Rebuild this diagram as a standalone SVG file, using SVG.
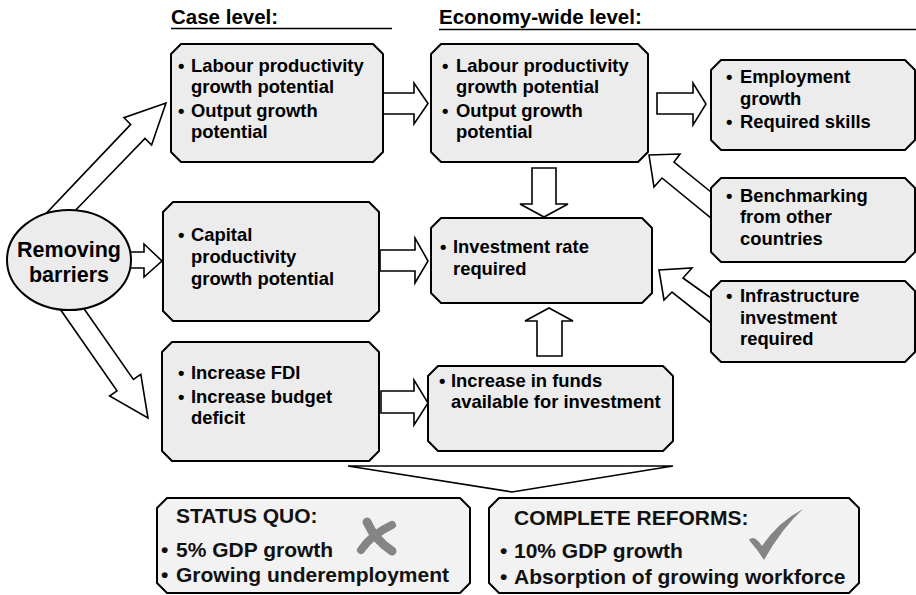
<svg xmlns="http://www.w3.org/2000/svg" width="916" height="595" viewBox="0 0 916 595">
<style>
text{font-family:"Liberation Sans",Arial,sans-serif;font-weight:bold;fill:#000}
.t{font-size:18.4px}
.h{font-size:20.5px}
.s{font-size:21px;fill:#111}
.box{fill:#ececec;stroke:#000;stroke-width:2;stroke-linejoin:round}
.sbox{fill:#f2f2f2;stroke:#000;stroke-width:2;stroke-linejoin:round}
.arr{fill:#fff;stroke:#000;stroke-width:1.6;stroke-linejoin:miter}
.ul{stroke:#000;stroke-width:1.6}
.mk{fill:none;stroke:#858585;stroke-linecap:round}
</style>
<rect width="916" height="595" fill="#fff"/>
<g id="headers">
<text class="h" x="171" y="24">Case level:</text>
<line class="ul" x1="171" y1="28.5" x2="392" y2="28.5"/>
<text class="h" x="439" y="24">Economy-wide level:</text>
<line class="ul" x1="439" y1="29.5" x2="916" y2="29.5"/>
</g>
<g id="connectors">
<polygon class="arr" points="383,93 414,93 414,83 428,103.5 414,124 414,114 383,114"/>
<polygon class="arr" points="657,93 693,93 693,83 706,104 693,125 693,114 657,114"/>
<polygon class="arr" points="380,250 415,250 415,238 428,261 415,283 415,271 380,271"/>
<polygon class="arr" points="381,391 414,391 414,380 428,403 414,425 414,413 381,413"/>
<polygon class="arr" points="125,252 144,252 144,244 162,261 144,277 144,268 125,268"/>
<polygon class="arr" points="532,168 556,168 556,204 568,204 544,217 520,204 532,204"/>
<polygon class="arr" points="537,356 562,356 562,321 573,321 549,308 525,321 537,321"/>
<polygon class="arr" points="70,216 145,138.4 151.6,145 166,103 124,117.7 130.7,124.4 40,220"/>
<polygon class="arr" points="80,303 133.4,379.5 140.8,374.4 148,418 109.6,396 117,390.9 58,306"/>
<polygon class="arr" points="711,192 674,162 680,154 649,155 654,187 662,178 711,218"/>
<polygon class="arr" points="711,298 683,278 692,268 659,270 664,300 672,292 711,323"/>
<polygon class="arr" points="348,466 673,466 512,492"/>
</g>
<g id="removing">
<ellipse cx="69" cy="260" rx="62" ry="50" fill="#ececec" stroke="#000" stroke-width="2"/>
<text class="h" style="font-size:21.5px" x="69" y="257" text-anchor="middle">Removing</text>
<text class="h" style="font-size:21.5px" x="69" y="282" text-anchor="middle">barriers</text>
</g>
<g id="case-labour">
<path class="box" d="M181,44 H373 L383,54 V152 L373,162 H181 L171,152 V54 Z"/>
<text class="t" x="178" y="72">•</text><text class="t" x="191" y="72">Labour productivity</text>
<text class="t" x="191" y="93">growth potential</text>
<text class="t" x="178" y="117">•</text><text class="t" x="191" y="117">Output growth</text>
<text class="t" x="191" y="138">potential</text>
</g>
<g id="econ-labour">
<path class="box" d="M441,44 H638 L648,54 V152 L638,162 H441 L431,152 V54 Z"/>
<text class="t" x="442" y="72">•</text><text class="t" x="456" y="72">Labour productivity</text>
<text class="t" x="456" y="93">growth potential</text>
<text class="t" x="442" y="117">•</text><text class="t" x="456" y="117">Output growth</text>
<text class="t" x="456" y="138">potential</text>
</g>
<g id="employment">
<path class="box" d="M721,60 H905 L915,70 V140 L905,150 H721 L711,140 V70 Z"/>
<text class="t" x="726" y="83">•</text><text class="t" x="740" y="83">Employment</text>
<text class="t" x="740" y="105">growth</text>
<text class="t" x="726" y="128">•</text><text class="t" x="740" y="128">Required skills</text>
</g>
<g id="benchmarking">
<path class="box" d="M721,178 H905 L915,188 V252 L905,262 H721 L711,252 V188 Z"/>
<text class="t" x="726" y="202">•</text><text class="t" x="740" y="202">Benchmarking</text>
<text class="t" x="740" y="223">from other</text>
<text class="t" x="740" y="245">countries</text>
</g>
<g id="infrastructure">
<path class="box" d="M721,281 H905 L915,291 V352 L905,362 H721 L711,352 V291 Z"/>
<text class="t" x="726" y="302">•</text><text class="t" x="740" y="302">Infrastructure</text>
<text class="t" x="740" y="324">investment</text>
<text class="t" x="740" y="345">required</text>
</g>
<g id="capital">
<path class="box" d="M173,202 H369 L379,212 V311 L369,321 H173 L163,311 V212 Z"/>
<text class="t" x="178" y="241">•</text><text class="t" x="191" y="241">Capital</text>
<text class="t" x="191" y="263">productivity</text>
<text class="t" x="191" y="285">growth potential</text>
</g>
<g id="investment">
<path class="box" d="M441,218 H642 L652,228 V293 L642,303 H441 L431,293 V228 Z"/>
<text class="t" x="440" y="253">•</text><text class="t" x="453" y="253">Investment rate</text>
<text class="t" x="453" y="275">required</text>
</g>
<g id="fdi">
<path class="box" d="M172,342 H369 L379,352 V451 L369,461 H172 L162,451 V352 Z"/>
<text class="t" x="178" y="379">•</text><text class="t" x="191" y="379">Increase FDI</text>
<text class="t" x="178" y="403">•</text><text class="t" x="191" y="403">Increase budget</text>
<text class="t" x="191" y="424">deficit</text>
</g>
<g id="funds">
<path class="box" d="M438,366 H663 L673,376 V441 L663,451 H438 L428,441 V376 Z"/>
<text class="t" x="439" y="387">•</text><text class="t" x="451" y="387">Increase in funds</text>
<text class="t" x="451" y="408">available for investment</text>
</g>
<g id="status-quo">
<path class="sbox" d="M167,498 H460 L470,508 V583 L460,593 H167 L157,583 V508 Z"/>
<text class="s" x="176" y="523">STATUS QUO:</text>
<text class="s" x="161" y="557">•</text><text class="s" x="176" y="557">5% GDP growth</text>
<text class="s" x="161" y="582">•</text><text class="s" x="176" y="582">Growing underemployment</text>
<path class="mk" stroke-width="9" d="M367,522 Q375,540 392,551"/>
<path class="mk" stroke-width="8" d="M392,525 Q372,534 361,550"/>
</g>
<g id="complete-reforms">
<path class="sbox" d="M499,498 H849 L859,508 V583 L849,593 H499 L489,583 V508 Z"/>
<text class="s" x="514" y="525">COMPLETE REFORMS:</text>
<text class="s" x="500" y="558">•</text><text class="s" x="514" y="558">10% GDP growth</text>
<text class="s" x="500" y="584">•</text><text class="s" x="514" y="584">Absorption of growing workforce</text>
<path fill="#858585" d="M749,540 Q754,534 762,546 Q778,522 803,509 Q782,528 764,560 Q757,549 749,540 Z"/>
</g>
</svg>
